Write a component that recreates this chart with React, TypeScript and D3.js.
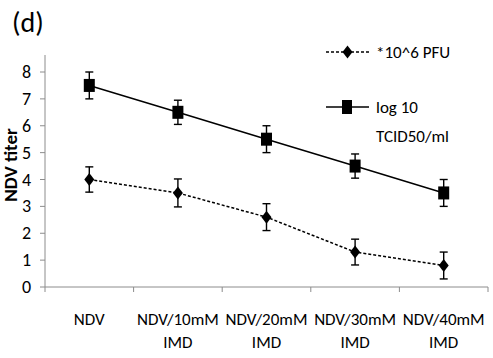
import React from "react";
import * as d3 from "d3";

const categories = ["NDV", "NDV/10mM IMD", "NDV/20mM IMD", "NDV/30mM IMD", "NDV/40mM IMD"];
const pfuValues = [4.0, 3.5, 2.6, 1.3, 0.8];
const pfuErrors = [0.47, 0.52, 0.5, 0.48, 0.5];
const tcidValues = [7.5, 6.5, 5.5, 4.5, 3.5];
const tcidErrors = [0.5, 0.45, 0.5, 0.45, 0.5];
const yTicks = [0, 1, 2, 3, 4, 5, 6, 7, 8];
const seriesNames = ["*10^6 PFU", "log 10", "TCID50/ml"];

const W = 493;
const H = 358;
const left = 45;
const right = 488;
const top = 72;
const bottom = 287;
const font = "Carlito, 'Liberation Sans Narrow', 'Liberation Sans', Arial, sans-serif";

export default function App() {
  const x = d3.scaleBand<string>().domain(categories).range([left, right]);
  const y = d3.scaleLinear().domain([0, 8]).range([bottom, top]);
  const cx = (i: number) => (x(categories[i]) as number) + x.bandwidth() / 2;
  const line = d3
    .line<number>()
    .x((_, i) => cx(i))
    .y((d) => y(d));

  const diamond = (px: number, py: number) =>
    `M${px},${py - 6.5} L${px + 5},${py} L${px},${py + 6.5} L${px - 5},${py} Z`;

  const errBar = (i: number, v: number, e: number, key: string) => {
    const px = cx(i);
    return (
      <g key={key} stroke="#000" strokeWidth={1.4}>
        <line x1={px} x2={px} y1={y(v + e)} y2={y(v - e)} />
        <line x1={px - 4} x2={px + 4} y1={y(v + e)} y2={y(v + e)} />
        <line x1={px - 4} x2={px + 4} y1={y(v - e)} y2={y(v - e)} />
      </g>
    );
  };

  return (
    <svg
      width={W}
      height={H}
      style={{ position: "absolute", left: 0, top: 0, background: "#fff" }}
      fontFamily={font}
    >
      <rect width={W} height={H} fill="#fff" />
      {/* title */}
      <text x={12} y={32} fontSize={28} fill="#000">(d)</text>

      {/* y axis */}
      <line x1={left} x2={left} y1={top - 17} y2={bottom} stroke="#8c8c8c" strokeWidth={1} />
      {yTicks.map((t) => (
        <g key={t}>
          <line x1={left - 5} x2={left} y1={y(t)} y2={y(t)} stroke="#8c8c8c" />
          <text x={31} y={y(t) + 6} fontSize={18} textAnchor="end" fill="#000">{t}</text>
        </g>
      ))}
      <text
        transform={`translate(17,165) rotate(-90)`}
        fontSize={19}
        fontWeight="bold"
        textAnchor="middle"
        fill="#000"
      >
        NDV titer
      </text>

      {/* x axis */}
      <line x1={left} x2={right} y1={bottom} y2={bottom} stroke="#8c8c8c" />
      {[...categories.map((c) => x(c) as number), right].map((p, i) => (
        <line key={i} x1={p} x2={p} y1={bottom} y2={bottom + 5} stroke="#8c8c8c" />
      ))}
      {categories.map((c, i) => {
        const parts = c.split(" ");
        return (
          <text key={c} x={cx(i)} y={325} fontSize={17} textAnchor="middle" fill="#000">
            {parts.map((p, j) => (
              <tspan key={j} x={cx(i)} dy={j === 0 ? 0 : 23}>{p}</tspan>
            ))}
          </text>
        );
      })}

      {/* series */}
      {tcidValues.map((v, i) => errBar(i, v, tcidErrors[i], "te" + i))}
      {pfuValues.map((v, i) => errBar(i, v, pfuErrors[i], "pe" + i))}
      <path d={line(tcidValues) || ""} fill="none" stroke="#000" strokeWidth={1.5} />
      <path d={line(pfuValues) || ""} fill="none" stroke="#000" strokeWidth={1.5} strokeDasharray="3,2" />
      {tcidValues.map((v, i) => (
        <rect key={"ts" + i} x={cx(i) - 5.5} y={y(v) - 6.5} width={11} height={13} fill="#000" />
      ))}
      {pfuValues.map((v, i) => (
        <path key={"pd" + i} d={diamond(cx(i), y(v))} fill="#000" />
      ))}

      {/* legend */}
      <line x1={326} x2={370} y1={52} y2={52} stroke="#000" strokeWidth={1.5} strokeDasharray="3,2" />
      <path d={diamond(347.5, 52)} fill="#000" />
      <text x={376} y={58} fontSize={17} fill="#000">{seriesNames[0]}</text>
      <line x1={326} x2={369} y1={107} y2={107} stroke="#000" strokeWidth={1.5} />
      <rect x={342} y={100} width={10} height={14} fill="#000" />
      <text x={376} y={113} fontSize={17} fill="#000">{seriesNames[1]}</text>
      <text x={376} y={142} fontSize={17} fill="#000">{seriesNames[2]}</text>
    </svg>
  );
}
